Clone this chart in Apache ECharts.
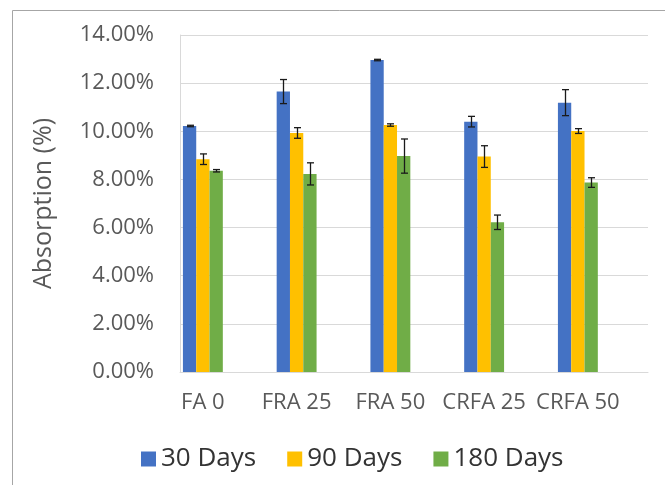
<!DOCTYPE html>
<html>
<head>
<meta charset="utf-8">
<script src="https://cdn.jsdelivr.net/npm/echarts@6/dist/echarts.min.js"></script>
<style>
  html, body { margin: 0; padding: 0; background: #fff; }
  #chart { width: 665px; height: 485px; }
</style>
</head>
<body>
<div id="chart"></div>
<script>
// values, in percent
const categories = ['FA 0', 'FRA 25', 'FRA 50', 'CRFA 25', 'CRFA 50']
const seriesNames = ['30 Days', '90 Days', '180 Days']
const days30 = [10.22, 11.65, 12.96, 10.40, 11.19]
const days90 = [8.84, 9.93, 10.26, 8.95, 10.01]
const days180 = [8.36, 8.23, 8.97, 6.22, 7.87]
const err30 = [0.03, 0.50, 0.03, 0.22, 0.54]
const err90 = [0.22, 0.22, 0.05, 0.45, 0.10]
const err180 = [0.05, 0.46, 0.71, 0.30, 0.20]
const yTicks = [0, 2, 4, 6, 8, 10, 12, 14]

const colors = ['#4472c4', '#ffc000', '#70ad47']
const font = 'Open Sans'
const barW = 13.3

const chart = echarts.init(document.getElementById('chart'))

const values = [days30, days90, days180]
const errors = [err30, err90, err180]

const barSeries = values.map((arr, i) => ({
  name: seriesNames[i],
  type: 'bar',
  xAxisIndex: 1,
  yAxisIndex: 1,
  barWidth: barW,
  barGap: '0%',
  itemStyle: { color: colors[i] },
  data: arr
}))

// error bars, drawn over each bar of the group
const errSeries = values.map((arr, i) => ({
  name: 'err' + i,
  type: 'custom',
  xAxisIndex: 1,
  yAxisIndex: 1,
  z: 5,
  data: arr.map((v, k) => [k, v, errors[i][k]]),
  renderItem(params, api) {
    const k = api.value(0)
    const v = api.value(1)
    const e = api.value(2)
    const off = (i - 1) * barW
    const hi = api.coord([k, v + e])
    const lo = api.coord([k, v - e])
    const x = Math.round(hi[0] + off) + 0.5
    const cap = 3.5
    const style = { stroke: '#1a1a1a', lineWidth: 1.3 }
    return {
      type: 'group',
      children: [
        { type: 'line', shape: { x1: x, y1: hi[1], x2: x, y2: lo[1] }, style },
        { type: 'line', shape: { x1: x - cap, y1: hi[1], x2: x + cap, y2: hi[1] }, style },
        { type: 'line', shape: { x1: x - cap, y1: lo[1], x2: x + cap, y2: lo[1] }, style }
      ]
    }
  }
}))

const option = {
  animation: false,
  textStyle: { fontFamily: font },
  graphic: [
    {
      type: 'rect',
      shape: { x: 12.5, y: 10.5, width: 700, height: 500 },
      style: { fill: 'none', stroke: '#a6a6a6', lineWidth: 1 },
      silent: true
    }
  ],
  legend: {
    data: seriesNames,
    left: 136,
    top: 441,
    itemWidth: 15,
    itemHeight: 15,
    itemGap: 31,
    icon: 'rect',
    textStyle: { fontFamily: font, fontSize: 26, color: '#333333' }
  },
  grid: [
    { left: 180, right: 17, top: 35, bottom: 113 },
    { left: 156, width: 468.75, top: 35, bottom: 113 }
  ],
  xAxis: [
    {
      type: 'category',
      gridIndex: 0,
      data: categories,
      axisLine: { lineStyle: { color: '#d9d9d9', width: 1 } },
      axisTick: { show: false },
      axisLabel: { show: false }
    },
    {
      type: 'category',
      gridIndex: 1,
      data: categories,
      axisLine: { show: false },
      axisTick: { show: false },
      axisLabel: {
        color: '#595959',
        fontSize: 22,
        fontFamily: font,
        margin: 20,
        interval: 0,
        hideOverlap: false
      }
    }
  ],
  yAxis: [
    {
      type: 'value',
      gridIndex: 0,
      min: yTicks[0],
      max: yTicks[yTicks.length - 1],
      interval: 2,
      name: 'Absorption (%)',
      nameLocation: 'middle',
      nameGap: 124,
      nameTextStyle: { color: '#595959', fontSize: 25, fontFamily: font },
      axisLine: { show: true, lineStyle: { color: '#d9d9d9', width: 1 } },
      axisTick: { show: false },
      splitLine: { lineStyle: { color: '#d9d9d9', width: 1 } },
      axisLabel: {
        color: '#595959',
        fontSize: 22,
        fontFamily: font,
        margin: 26,
        formatter: v => v.toFixed(2) + '%'
      }
    },
    {
      type: 'value',
      gridIndex: 1,
      min: yTicks[0],
      max: yTicks[yTicks.length - 1],
      interval: 2,
      show: false,
      splitLine: { show: false }
    }
  ],
  series: barSeries.concat(errSeries)
}

chart.setOption(option)
</script>
</body>
</html>
